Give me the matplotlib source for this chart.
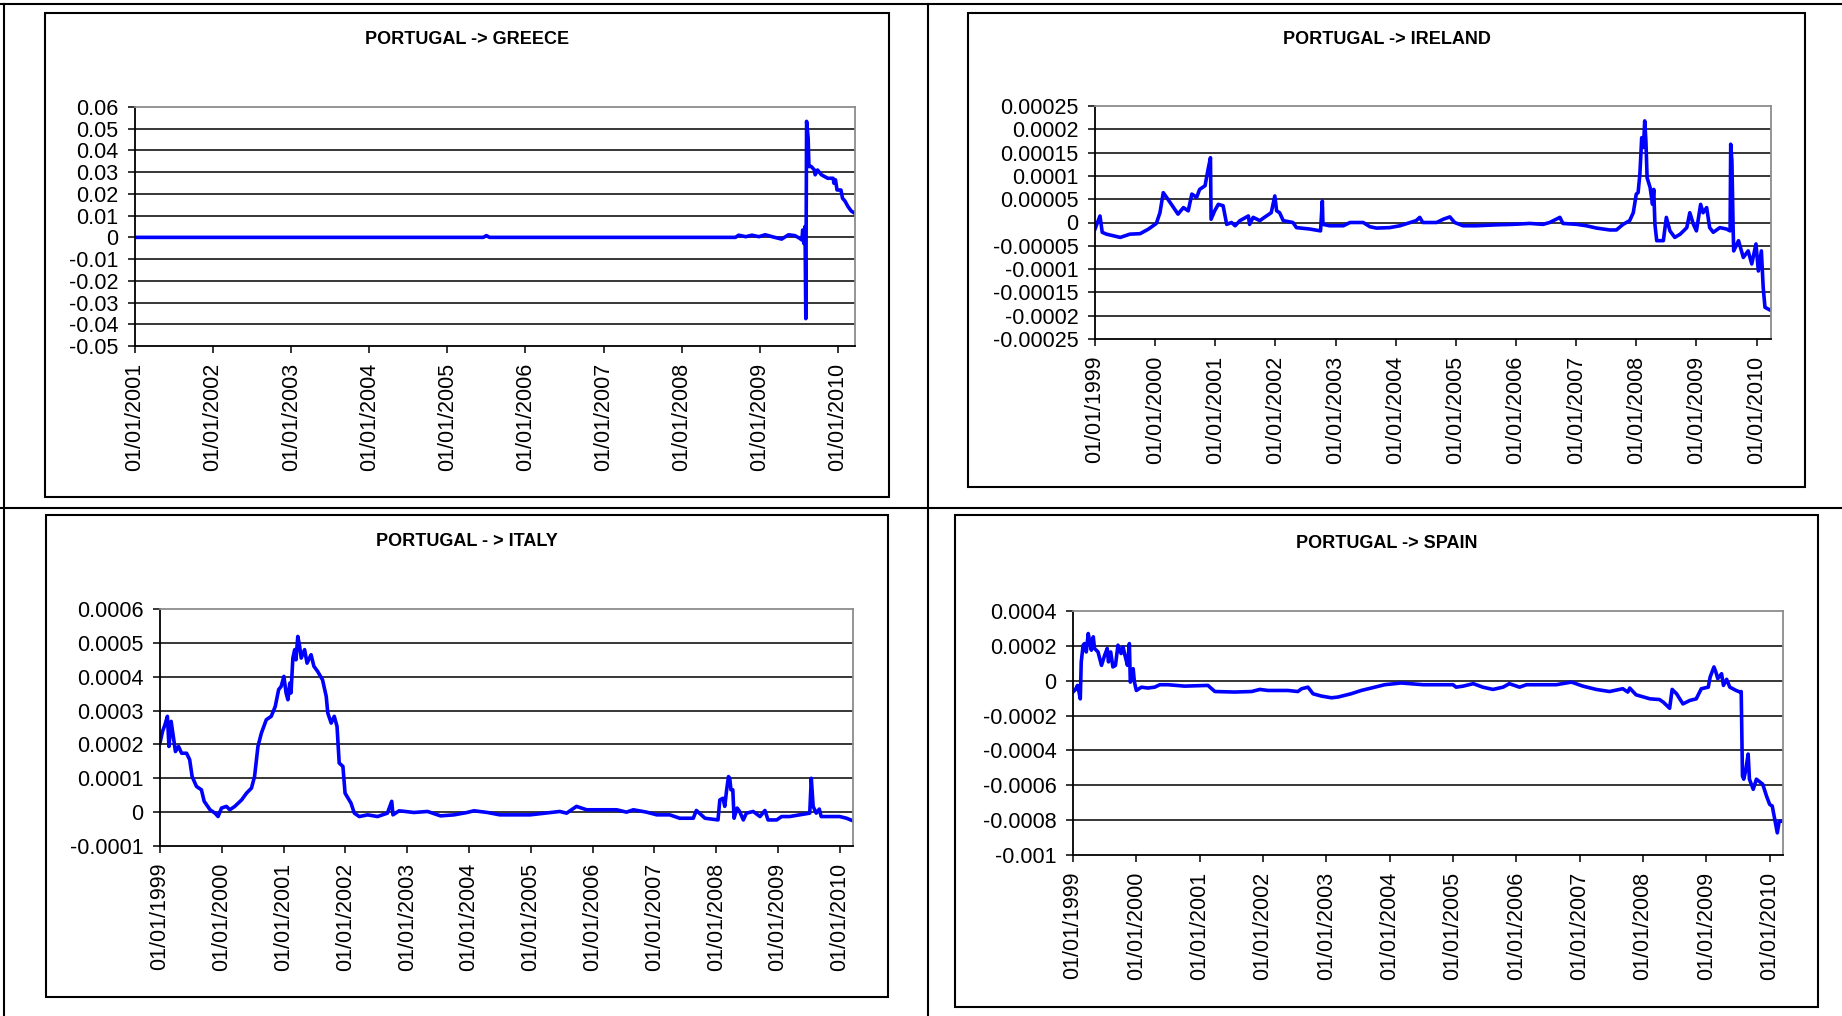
import numpy as np
import matplotlib
matplotlib.use("Agg")
import matplotlib.pyplot as plt
from matplotlib.lines import Line2D
from matplotlib.patches import Rectangle

plt.rcParams["font.family"] = ["Liberation Sans", "DejaVu Sans"]

# ---- data (decimal years, values) ----
greece_t = [2001.0, 2005.46, 2005.5, 2005.54, 2008.69, 2008.73, 2008.82, 2008.90, 2008.99, 2009.07,
            2009.16, 2009.28, 2009.37, 2009.45, 2009.51, 2009.54, 2009.55, 2009.565, 2009.58, 2009.59,
            2009.60, 2009.62, 2009.63, 2009.66, 2009.70, 2009.71, 2009.74, 2009.79, 2009.87, 2009.94,
            2009.95, 2009.97, 2009.99, 2010.04, 2010.06, 2010.09, 2010.13, 2010.17, 2010.22]
greece_v = [0, 0, 0.0008, 0, 0, 0.001, 0.0003, 0.001, 0.0003, 0.0012,
            0.0003, -0.0008, 0.0012, 0.0008, -0.0004, -0.0012, 0.0034, -0.0028, 0.005, -0.0374,
            0.0534, 0.0457, 0.0326, 0.0326, 0.031, 0.0288, 0.031, 0.0288, 0.0272, 0.0272,
            0.0249, 0.0265, 0.0218, 0.0218, 0.018, 0.0168, 0.0142, 0.0122, 0.011]

ireland_t = [1999.00, 1999.083, 1999.12, 1999.19, 1999.42, 1999.58, 1999.75, 1999.89, 2000.02, 2000.08,
             2000.135, 2000.19, 2000.27, 2000.38, 2000.47, 2000.55, 2000.61, 2000.69, 2000.74, 2000.83,
             2000.88, 2000.92, 2000.93, 2000.99, 2001.05, 2001.13, 2001.19, 2001.27, 2001.33, 2001.41,
             2001.55, 2001.57, 2001.63, 2001.74, 2001.85, 2001.93, 2001.99, 2002.02, 2002.07, 2002.13,
             2002.29, 2002.35, 2002.57, 2002.75, 2002.78, 2002.79, 2002.90, 2003.13, 2003.24, 2003.46,
             2003.57, 2003.68, 2003.90, 2004.07, 2004.34, 2004.40, 2004.45, 2004.68, 2004.79, 2004.90,
             2004.98, 2005.12, 2005.34, 2005.68, 2005.95, 2006.23, 2006.45, 2006.56, 2006.73, 2006.78,
             2007.01, 2007.17, 2007.34, 2007.56, 2007.67, 2007.78, 2007.89, 2007.95, 2008.00, 2008.03,
             2008.06, 2008.09, 2008.12, 2008.14, 2008.16, 2008.18, 2008.23, 2008.27, 2008.29, 2008.31,
             2008.34, 2008.45, 2008.50, 2008.56, 2008.64, 2008.73, 2008.84, 2008.89, 2008.95, 2009.00,
             2009.07, 2009.11, 2009.17, 2009.22, 2009.28, 2009.39, 2009.50, 2009.56, 2009.57, 2009.59,
             2009.61, 2009.62, 2009.70, 2009.78, 2009.86, 2009.92, 2009.99, 2010.03, 2010.08, 2010.11,
             2010.14, 2010.24]
# in units of 1e-5
ireland_v = [-1.4, 1.4, -2.1, -2.5, -3.2, -2.5, -2.4, -1.4, -0.2, 2.1,
             6.4, 5.4, 3.9, 1.8, 3.2, 2.5, 6.1, 5.4, 7.1, 7.9,
             11.4, 13.9, 0.7, 2.5, 3.9, 3.6, -0.4, 0, -0.7, 0.4,
             1.4, -0.4, 1.1, 0.4, 1.4, 2.1, 5.7, 2.5, 2.1, 0.4,
             0, -1.1, -1.4, -1.8, 4.6, -0.4, -0.7, -0.7, 0, 0,
             -0.9, -1.2, -1.1, -0.7, 0.4, 1.1, 0, 0, 0.7, 1.2,
             0, -0.7, -0.7, -0.5, -0.4, -0.2, -0.4, 0, 1.1, -0.2,
             -0.4, -0.7, -1.2, -1.6, -1.6, -0.4, 0.4, 2.1, 6.1, 6.4,
             10.4, 18.2, 16.1, 21.8, 17.5, 9.6, 7.5, 3.9, 7.1, -0.4,
             -3.9, -3.9, 1.1, -1.8, -3.2, -2.5, -1.1, 2.1, -0.4, -1.8,
             3.9, 2.1, 3.2, -1.1, -2.1, -1.1, -1.4, -1.8, 16.8, 13.2,
             -1.1, -6.1, -3.9, -7.5, -6.1, -8.9, -4.6, -10.4, -6.1, -13.9,
             -18.2, -18.9]

italy_t = [1999.00, 1999.04, 1999.08, 1999.12, 1999.145, 1999.18, 1999.215, 1999.25, 1999.30, 1999.35,
           1999.43, 1999.48, 1999.52, 1999.59, 1999.67, 1999.715, 1999.81, 1999.89, 1999.94, 1999.995,
           2000.075, 2000.13, 2000.21, 2000.32, 2000.40, 2000.48, 2000.53, 2000.585, 2000.64, 2000.72,
           2000.80, 2000.865, 2000.92, 2000.96, 2001.005, 2001.04, 2001.07, 2001.10, 2001.12, 2001.15,
           2001.18, 2001.20, 2001.23, 2001.26, 2001.285, 2001.34, 2001.38, 2001.445, 2001.49, 2001.55,
           2001.63, 2001.69, 2001.715, 2001.77, 2001.82, 2001.865, 2001.90, 2001.96, 2001.995, 2002.09,
           2002.145, 2002.225, 2002.36, 2002.52, 2002.68, 2002.75, 2002.77, 2002.87, 2003.11, 2003.33,
           2003.54, 2003.76, 2003.97, 2004.08, 2004.30, 2004.50, 2004.99, 2005.47, 2005.58, 2005.74,
           2005.905, 2006.12, 2006.39, 2006.55, 2006.66, 2006.875, 2007.04, 2007.25, 2007.41, 2007.63,
           2007.68, 2007.82, 2008.03, 2008.06, 2008.11, 2008.14, 2008.17, 2008.20, 2008.22, 2008.24,
           2008.27, 2008.29, 2008.34, 2008.38, 2008.44, 2008.49, 2008.60, 2008.71, 2008.79, 2008.84,
           2008.98, 2009.06, 2009.19, 2009.35, 2009.515, 2009.54, 2009.57, 2009.62, 2009.67, 2009.70,
           2009.89, 2010.00, 2010.11, 2010.205]
# in units of 1e-4
italy_v = [2.04, 2.38, 2.58, 2.83, 1.94, 2.68, 2.24, 1.79, 1.94, 1.74,
           1.74, 1.55, 1.05, 0.76, 0.66, 0.32, 0.07, -0.03, -0.13, 0.12,
           0.17, 0.07, 0.17, 0.36, 0.56, 0.71, 1.05, 1.94, 2.33, 2.73,
           2.83, 3.12, 3.62, 3.71, 4.01, 3.52, 3.32, 3.81, 3.52, 4.55,
           4.80, 4.50, 5.19, 4.90, 4.55, 4.80, 4.40, 4.65, 4.31, 4.16,
           3.91, 3.42, 2.93, 2.63, 2.83, 2.53, 1.45, 1.35, 0.56, 0.27,
           -0.03, -0.13, -0.08, -0.13, -0.03, 0.32, -0.08, 0.04, -0.01, 0.02,
           -0.11, -0.08, -0.01, 0.04, -0.01, -0.08, -0.08, 0.02, -0.03, 0.17,
           0.07, 0.07, 0.07, 0.0, 0.07, 0.0, -0.08, -0.08, -0.18, -0.18,
           0.05, -0.18, -0.23, 0.36, 0.41, 0.17, 0.66, 1.05, 1.00, 0.66,
           0.66, -0.18, 0.12, 0.02, -0.23, -0.03, 0.02, -0.13, 0.05, -0.23,
           -0.23, -0.13, -0.13, -0.08, -0.03, 1.00, 0.17, -0.03, 0.09, -0.13,
           -0.13, -0.13, -0.18, -0.25]

spain_t = [1999.00, 1999.04, 1999.07, 1999.095, 1999.115, 1999.13, 1999.16, 1999.18, 1999.21, 1999.24,
           1999.26, 1999.29, 1999.32, 1999.34, 1999.395, 1999.45, 1999.50, 1999.54, 1999.56, 1999.595,
           1999.63, 1999.67, 1999.71, 1999.74, 1999.76, 1999.79, 1999.82, 1999.86, 1999.89, 1999.905,
           1999.95, 1999.97, 2000.00, 2000.08, 2000.18, 2000.29, 2000.37, 2000.50, 2000.76, 2001.13,
           2001.24, 2001.55, 2001.82, 2001.95, 2002.08, 2002.39, 2002.55, 2002.61, 2002.71, 2002.79,
           2002.92, 2003.08, 2003.18, 2003.39, 2003.55, 2003.71, 2003.92, 2004.08, 2004.18, 2004.53,
           2005.00, 2005.05, 2005.16, 2005.32, 2005.47, 2005.63, 2005.79, 2005.89, 2006.05, 2006.16,
           2006.63, 2006.87, 2007.05, 2007.26, 2007.47, 2007.68, 2007.76, 2007.79, 2007.89, 2008.11,
           2008.26, 2008.32, 2008.42, 2008.46, 2008.53, 2008.63, 2008.74, 2008.84, 2008.92, 2009.03,
           2009.06, 2009.12, 2009.15, 2009.18, 2009.24, 2009.27, 2009.32, 2009.37, 2009.47, 2009.53,
           2009.55, 2009.57, 2009.59, 2009.62, 2009.66, 2009.68, 2009.74, 2009.79, 2009.89, 2009.95,
           2010.00, 2010.04, 2010.08, 2010.12, 2010.15, 2010.21]
# in units of 1e-4
spain_v = [-0.65, -0.50, -0.27, -0.65, -1.04, 1.08, 2.04, 2.13, 1.65, 2.71,
           2.33, 1.75, 2.52, 1.85, 1.65, 0.88, 1.46, 1.85, 1.08, 1.65,
           0.79, 0.88, 2.04, 1.75, 1.56, 1.94, 1.46, 0.88, 2.13, -0.08,
           0.69, -0.08, -0.56, -0.37, -0.42, -0.37, -0.23, -0.23, -0.31, -0.27,
           -0.62, -0.65, -0.62, -0.50, -0.56, -0.56, -0.62, -0.46, -0.37, -0.75,
           -0.88, -0.98, -0.94, -0.75, -0.56, -0.42, -0.23, -0.17, -0.13, -0.23,
           -0.23, -0.37, -0.31, -0.17, -0.37, -0.50, -0.37, -0.17, -0.37, -0.23,
           -0.23, -0.08, -0.31, -0.50, -0.62, -0.46, -0.65, -0.42, -0.81, -1.04,
           -1.08, -1.23, -1.58, -0.50, -0.75, -1.33, -1.13, -1.04, -0.46, -0.37,
           0.21, 0.79, 0.50, 0.12, 0.40, -0.27, 0.08, -0.37, -0.56, -0.65,
           -0.62, -5.46, -5.65, -5.17, -4.21, -5.65, -6.23, -5.65, -5.94, -6.62,
           -7.10, -7.19, -7.96, -8.73, -8.06, -8.06]

greece_ticks = [0.06, 0.05, 0.04, 0.03, 0.02, 0.01, 0, -0.01, -0.02, -0.03, -0.04, -0.05]
greece_labels = ["0.06", "0.05", "0.04", "0.03", "0.02", "0.01", "0",
                 "-0.01", "-0.02", "-0.03", "-0.04", "-0.05"]
ireland_ticks = [0.00025, 0.0002, 0.00015, 0.0001, 0.00005, 0,
                 -0.00005, -0.0001, -0.00015, -0.0002, -0.00025]
ireland_labels = ["0.00025", "0.0002", "0.00015", "0.0001", "0.00005", "0",
                  "-0.00005", "-0.0001", "-0.00015", "-0.0002", "-0.00025"]
italy_ticks = [0.0006, 0.0005, 0.0004, 0.0003, 0.0002, 0.0001, 0, -0.0001]
italy_labels = ["0.0006", "0.0005", "0.0004", "0.0003", "0.0002", "0.0001", "0", "-0.0001"]
spain_ticks = [0.0004, 0.0002, 0, -0.0002, -0.0004, -0.0006, -0.0008, -0.001]
spain_labels = ["0.0004", "0.0002", "0", "-0.0002", "-0.0004", "-0.0006", "-0.0008", "-0.001"]

# ---- layout (pixel coords of the 1842x1016 canvas) ----
W, H = 1842, 1016
fig = plt.figure(figsize=(W / 100, H / 100), dpi=100)


def fx(x):
    return x / W


def fy(y):
    return 1 - y / H


# table lines
for x0, y0, x1, y1 in [(0, 4, W, 4), (0, 508, W, 508), (4, 4, 4, H), (928, 4, 928, H)]:
    fig.add_artist(Line2D([fx(x0), fx(x1)], [fy(y0), fy(y1)], color="black", lw=1.5,
                          transform=fig.transFigure))

panels = [
    dict(title="PORTUGAL -> GREECE", t=greece_t, v=np.array(greece_v), frame=(45, 13, 889, 497),
         box=(135, 107, 855, 346), title_y=40, xlim=(2001, 2010.22), start=2001,
         ticks=greece_ticks, labels=greece_labels),
    dict(title="PORTUGAL -> IRELAND", t=ireland_t, v=np.array(ireland_v) * 1e-5, frame=(968, 13, 1805, 487),
         box=(1095, 106, 1771, 339), title_y=39, xlim=(1999, 2010.24), start=1999,
         ticks=ireland_ticks, labels=ireland_labels),
    dict(title="PORTUGAL - > ITALY", t=italy_t, v=np.array(italy_v) * 1e-4, frame=(46, 515, 888, 997),
         box=(160, 609, 853, 846), title_y=542, xlim=(1999, 2010.215), start=1999,
         ticks=italy_ticks, labels=italy_labels),
    dict(title="PORTUGAL -> SPAIN", t=spain_t, v=np.array(spain_v) * 1e-4, frame=(955, 515, 1818, 1007),
         box=(1073, 611, 1783, 855), title_y=543, xlim=(1999, 2010.21), start=1999,
         ticks=spain_ticks, labels=spain_labels),
]

for p in panels:
    l, t, r, b = p["frame"]
    fig.add_artist(Rectangle((fx(l), fy(b)), (r - l) / W, (b - t) / H, fill=False,
                             ec="black", lw=1.5, transform=fig.transFigure))
    fig.text(fx((l + r) / 2), fy(p["title_y"]), p["title"], ha="center", va="center",
             fontsize=13, fontweight="bold")

    l, t, r, b = p["box"]
    ax = fig.add_axes([fx(l), fy(b), (r - l) / W, (b - t) / H])
    ax.plot(p["t"], p["v"], color="#0000FF", lw=2.6, solid_joinstyle="round")
    ax.set_xlim(*p["xlim"])
    ax.set_ylim(min(p["ticks"]), max(p["ticks"]))
    ax.set_yticks(p["ticks"])
    ax.set_yticklabels(p["labels"])
    years = list(range(p["start"], 2011))
    ax.set_xticks(years)
    ax.set_xticklabels(["01/01/%d" % y for y in years], rotation=90)
    ax.tick_params(axis="both", direction="out", length=5, width=1.1, labelsize=15.5,
                   pad=7, color="black")
    ax.grid(axis="y", color="black", lw=1.1)
    ax.get_ygridlines()[0].set_visible(False)
    ax.get_ygridlines()[-1].set_visible(False)
    for side in ["top", "right"]:
        ax.spines[side].set_color("#8c8c8c")
        ax.spines[side].set_linewidth(1.3)
    for side in ["left", "bottom"]:
        ax.spines[side].set_color("black")
        ax.spines[side].set_linewidth(1.3)

fig.savefig("out.png", dpi=100)
